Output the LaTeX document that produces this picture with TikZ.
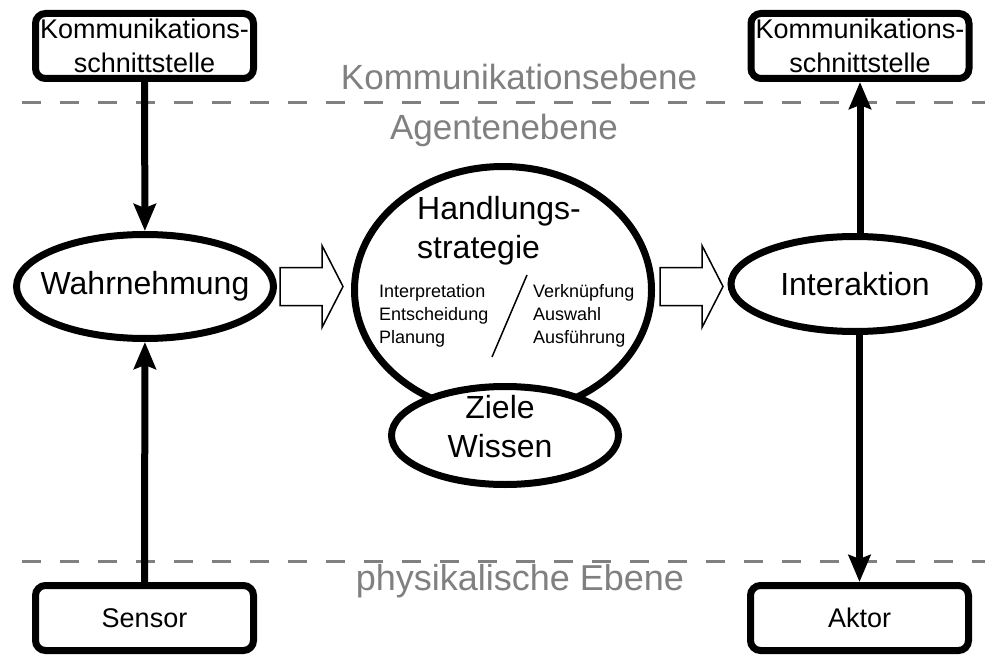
\documentclass[tikz,border=0pt]{standalone}
\usepackage{fontspec}
\setmainfont{Liberation Sans}
\usepackage{tikz}
\usetikzlibrary{shapes,arrows.meta}

\definecolor{levelgray}{RGB}{128,128,128}

\begin{document}
\begin{tikzpicture}[x=1pt,y=-1pt]
				\tikzset{iface/.style={draw,line width=7pt,rounded corners=10pt,fill=white,minimum width=218pt,minimum height=65pt,inner sep=0pt,align=center,font=\fontsize{27}{34}\selectfont}}
				\tikzset{phase/.style={draw,ellipse,line width=7pt,fill=white,inner sep=0pt}}
				\tikzset{phase text/.style={font=\fontsize{32}{39}\selectfont,align=center,inner sep=0pt}}
				\tikzset{task text/.style={font=\fontsize{18}{23}\selectfont,align=left,inner sep=0pt,anchor=west}}
				\tikzset{level label/.style={text=levelgray,anchor=base,inner sep=0pt,font=\fontsize{35}{42}\selectfont}}
				\tikzset{level line/.style={levelgray,line width=3pt,dash pattern=on 19pt off 19pt}}
				\tikzset{flow/.style={line width=7pt,-{Stealth[length=27pt,width=22pt,inset=4pt]}}}
				\tikzset{block arrow/.style={draw,line width=1.5pt,fill=white,line join=miter}}
				\useasboundingbox (0,0) rectangle (985,655);
				% ebenen
				\draw[level line] (22,103) -- (985,103);
				\draw[level line] (22,561) -- (985,561);
				\node[level label] (komlevel) at (519,90) {Kommunikationsebene};
				\node[level label] (agentlevel) at (504,140) {Agentenebene};
				\node[level label,font=\fontsize{36}{42}\selectfont] (physlevel) at (520,590) {physikalische Ebene};
				% schnittstellen, sensor und aktor
				\node[iface] (komin) at (144.5,46) {Kommunikations-\\schnittstelle};
				\node[iface] (komout) at (860,46) {Kommunikations-\\schnittstelle};
				\node[iface] (sensor) at (144.5,618) {Sensor};
				\node[iface] (aktor) at (859.5,618) {Aktor};
				% agent
				\node[phase,minimum width=257pt,minimum height=104pt,label={[phase text]center:Wahrnehmung}] (wahr) at (145,286.5) {};
				\node[phase,minimum width=248pt,minimum height=95pt,label={[phase text]center:Interaktion}] (inter) at (855,284) {};
				\node[phase,minimum width=297pt,minimum height=247pt] (strat) at (503,290) {};
				\node[phase,minimum width=227pt,minimum height=98pt,label={[phase text,xshift=-5pt,yshift=8.5pt]center:Ziele\\Wissen}] (ziele) at (505,435.5) {};
				\node[phase text,align=left] (strattitle) at (499,231) {Handlungs-\\strategie};
				\node[task text] (tasks) at (379,315.5) {Interpretation\\Entscheidung\\Planung};
				\node[task text] (links) at (533,315.5) {Verknüpfung\\Auswahl\\Ausführung};
				\draw[line width=1.5pt] (527,275) -- (492,357);
				% blockpfeile
				\coordinate (handoff) at ([xshift=5pt]strat.east);
				\draw[block arrow] ([xshift=3pt]wahr.east) ++(0,-19) -- ++(42,0) -- ++(0,-22) -- ++(21,41) -- ++(-21,41) -- ++(0,-22) -- ++(-42,0) -- cycle;
				\draw[block arrow] (handoff |- wahr.east) ++(0,-19) -- ++(42,0) -- ++(0,-22) -- ++(21,41) -- ++(-21,41) -- ++(0,-22) -- ++(-42,0) -- cycle;
				% verbindungen
				\draw[flow] (komin) -- (wahr);
				\draw[flow] (sensor) -- (wahr);
				\draw[flow] (komout.south |- inter.north) -- (komout.south);
				\draw[flow] (aktor.north |- inter.south) -- (aktor.north);
\end{tikzpicture}
\end{document}
